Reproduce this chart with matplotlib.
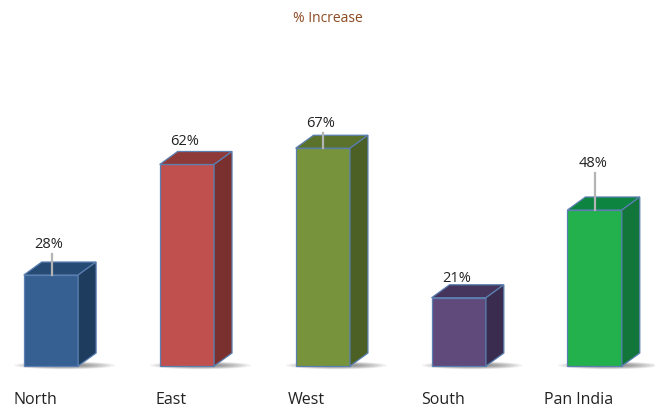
import numpy as np
import matplotlib.pyplot as plt
from matplotlib.patches import Polygon, Ellipse

regions = ['North', 'East', 'West', 'South', 'Pan India']
increase = [28, 62, 67, 21, 48]
front_colors = ['#376092', '#c0504d', '#77933c', '#604a7b', '#22b14c']
top_colors = ['#254a74', '#8e3a38', '#5b722c', '#45355c', '#0d8540']
side_colors = ['#1e3c5e', '#7a302e', '#4c5f25', '#3a2c4e', '#127539']
label_gap = [7.0, 4.9, 5.2, 3.6, 11.9]   # label height above bar top (in %)

plt.rcParams['font.family'] = ['Open Sans', 'DejaVu Sans']

fig = plt.figure(figsize=(6.55, 4.07), dpi=100)
ax = fig.add_axes([0, 0, 1, 1])
ax.set_xlim(-0.375, 4.444)
ax.set_ylim(-12.6, 112.6)
ax.axis('off')

w = 0.4      # front width
dx = 0.132   # depth in x
dy = 4.0     # depth in y

for i, v in enumerate(increase):
    x0 = i - w / 2
    x1 = i + w / 2
    # soft shadow at the base
    for k in range(8):
        ax.add_patch(Ellipse((i + 0.1, 0.2), 0.74 - k * 0.06, 2.4 - k * 0.22,
                             color='#000000', alpha=0.06, lw=0, zorder=1))
    front = Polygon([(x0, 0), (x1, 0), (x1, v), (x0, v)], closed=True,
                    fc=front_colors[i], ec='#5a7fb0', lw=0.9, zorder=3)
    top = Polygon([(x0, v), (x1, v), (x1 + dx, v + dy), (x0 + dx, v + dy)], closed=True,
                  fc=top_colors[i], ec='#5a7fb0', lw=0.9, zorder=3)
    side = Polygon([(x1, 0), (x1 + dx, dy), (x1 + dx, v + dy), (x1, v)], closed=True,
                   fc=side_colors[i], ec='#5a7fb0', lw=0.9, zorder=3)
    for p in (front, top, side):
        ax.add_patch(p)

    g = label_gap[i]
    if g > 5.0:
        ax.plot([i + 0.005, i + 0.005], [v, v + g - 0.4], color='#b4b4b4', lw=1.6,
                zorder=4)
    ax.text(i - 0.015, v + g, f'{v}%', ha='center', va='bottom',
            fontsize=10.5, color='#222222', zorder=5)

    ax.text(i - 0.118, -10.4, regions[i], ha='center', va='center', fontsize=11.5,
            color='#222222')

fig.text(0.5, 0.955, '% Increase', ha='center', va='center', fontsize=10,
         color='#8e4a22')

fig.savefig('out.png', dpi=100)
